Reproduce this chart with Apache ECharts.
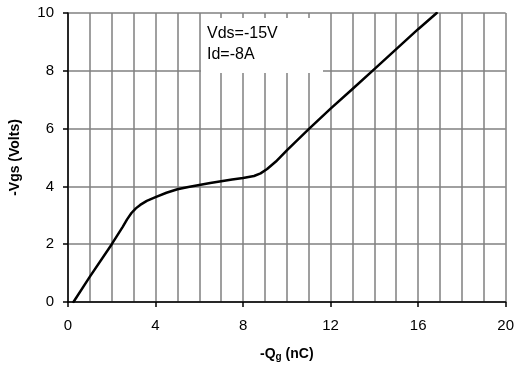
<!DOCTYPE html>
<html>
<head>
<meta charset="utf-8">
<script src="https://cdn.jsdelivr.net/npm/echarts@6/dist/echarts.min.js"></script>
<style>
html,body{margin:0;padding:0;background:#fff;}
#c{width:517px;height:370px;}
</style>
</head>
<body>
<div id="c"></div>
<script>
// Gate charge curve: -Qg (nC) vs -Vgs (V)
const qg = [0.25, 1, 2, 2.5, 2.7, 2.9, 3.1, 3.3, 3.6, 4, 4.5, 5, 5.5, 6, 6.5, 7, 7.5, 8, 8.5, 8.8, 9.1, 9.5, 10, 11, 12, 13, 14, 15, 16, 16.85];
const vgs = [0, 0.88, 2.0, 2.6, 2.86, 3.08, 3.24, 3.36, 3.5, 3.63, 3.78, 3.9, 3.98, 4.05, 4.12, 4.18, 4.24, 4.29, 4.36, 4.45, 4.6, 4.86, 5.25, 5.98, 6.69, 7.37, 8.06, 8.75, 9.44, 10.0];
const xTicks = [0, 4, 8, 12, 16, 20];
const yTicks = [0, 2, 4, 6, 8, 10];
const noteLines = ['Vds=-15V', 'Id=-8A'];

const FONT = '"Liberation Sans", Arial, sans-serif';
const chart = echarts.init(document.getElementById('c'), null, {renderer: 'canvas'});
const grid = {left: 68, right: 9, top: 13, bottom: 68};
const gridLineStyle = {color: '#808080', width: 1.5};

chart.setOption({
  animation: false,
  backgroundColor: '#fff',
  grid: grid,
  xAxis: {
    type: 'value',
    min: xTicks[0], max: xTicks[xTicks.length - 1], interval: 4,
    axisLine: {show: true, onZero: false, lineStyle: {color: '#000', width: 1.5}},
    axisTick: {show: true, length: 5, lineStyle: {color: '#000', width: 1.5}},
    axisLabel: {margin: 16, fontFamily: FONT, fontSize: 15, color: '#000'},
    splitLine: {show: true, lineStyle: gridLineStyle},
    minorTick: {show: false, splitNumber: 4},
    minorSplitLine: {show: true, lineStyle: gridLineStyle},
    name: '-Q{sub|g} (nC)',
    nameLocation: 'middle',
    nameGap: 44,
    nameTextStyle: {fontFamily: FONT, fontSize: 14, fontWeight: 'bold', color: '#000',
      rich: {sub: {fontFamily: FONT, fontSize: 10, fontWeight: 'bold', color: '#000', verticalAlign: 'bottom', padding: [6, 0, 0, 0]}}}
  },
  yAxis: {
    type: 'value',
    min: yTicks[0], max: yTicks[yTicks.length - 1], interval: 2,
    axisLine: {show: true, onZero: false, lineStyle: {color: '#000', width: 1.5}},
    axisTick: {show: true, length: 5, lineStyle: {color: '#000', width: 1.5}},
    axisLabel: {margin: 14, fontFamily: FONT, fontSize: 15, color: '#000'},
    splitLine: {show: true, lineStyle: gridLineStyle},
    name: '-Vgs (Volts)',
    nameLocation: 'middle',
    nameGap: 46,
    nameTextStyle: {fontFamily: FONT, fontSize: 14, fontWeight: 'bold', color: '#000'}
  },
  series: [{
    type: 'line',
    data: qg.map((q, i) => [q, vgs[i]]),
    showSymbol: false,
    smooth: false,
    lineStyle: {color: '#000', width: 2.5, join: 'round', cap: 'round'},
    z: 3
  }],
  graphic: [{
    type: 'rect',
    left: 201, top: 18,
    shape: {width: 122, height: 55},
    style: {fill: '#fff'},
    z: 10
  }, {
    type: 'text',
    left: 207, top: 23,
    style: {text: noteLines.join('\n'), font: '16px ' + FONT, fill: '#000', lineHeight: 21},
    z: 11
  }]
});
</script>
</body>
</html>
